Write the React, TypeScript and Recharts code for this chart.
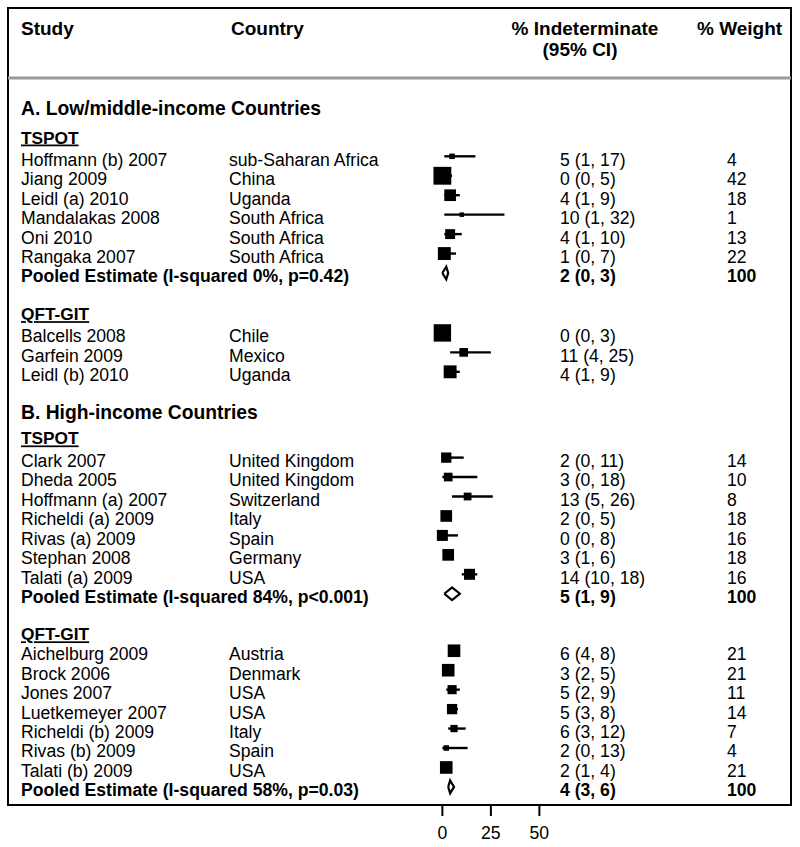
import React from "react";
import { ScatterChart, Scatter, XAxis, YAxis, ErrorBar, ReferenceLine, ReferenceArea } from "recharts";

// Studies, in the order they are listed
const studies = [
    "Hoffmann (b) 2007", "Jiang 2009", "Leidl (a) 2010", "Mandalakas 2008", "Oni 2010", "Rangaka 2007",
    "Balcells 2008", "Garfein 2009", "Leidl (b) 2010",
    "Clark 2007", "Dheda 2005", "Hoffmann (a) 2007", "Richeldi (a) 2009", "Rivas (a) 2009", "Stephan 2008", "Talati (a) 2009",
    "Aichelburg 2009", "Brock 2006", "Jones 2007", "Luetkemeyer 2007", "Richeldi (b) 2009", "Rivas (b) 2009", "Talati (b) 2009"
];
const countries = [
    "sub-Saharan Africa", "China", "Uganda", "South Africa", "South Africa", "South Africa",
    "Chile", "Mexico", "Uganda",
    "United Kingdom", "United Kingdom", "Switzerland", "Italy", "Spain", "Germany", "USA",
    "Austria", "Denmark", "USA", "USA", "Italy", "Spain", "USA"
];
const estimates = [5, 0, 4, 10, 4, 1, 0, 11, 4, 2, 3, 13, 2, 0, 3, 14, 6, 3, 5, 5, 6, 2, 2];
const lower = [1, 0, 1, 1, 1, 0, 0, 4, 1, 0, 0, 5, 0, 0, 1, 10, 4, 2, 2, 3, 3, 0, 1];
const upper = [17, 5, 9, 32, 10, 7, 3, 25, 9, 11, 18, 26, 5, 8, 6, 18, 8, 5, 9, 8, 12, 13, 4];
// % weight (the QFT-GIT group in section A shows no weights; values there only size the boxes)
const weights = [4, 42, 18, 1, 13, 22, 40, 10, 22, 14, 10, 8, 18, 16, 18, 16, 21, 21, 11, 14, 7, 4, 21];

const sections = ["A. Low/middle-income Countries", "B. High-income Countries"];
const sectionRows = [-2.61, 13.0];

const subgroupNames = ["TSPOT", "QFT-GIT", "TSPOT", "QFT-GIT"];
const subgroupHeaderRows = [-1.14, 7.94, 14.33, 24.4];
const subgroupFirstRows = [0, 9.08, 15.49, 25.42];
const subgroupSizes = [6, 3, 7, 7];

const pooledLabels = [
    "Pooled Estimate (I-squared 0%, p=0.42)",
    null,
    "Pooled Estimate (I-squared 84%, p<0.001)",
    "Pooled Estimate (I-squared 58%, p=0.03)"
];
const pooledEst = [2, null, 5, 4];
const pooledLo = [0, null, 1, 3];
const pooledHi = [3, null, 9, 6];

const xTicks = [0, 25, 50];

const X_DOMAIN: [number, number] = [-223.9, 179.7];
const Y_DOMAIN: [number, number] = [-7.625, 33.35];
const DIAMOND_HALF = 0.33;
const FONT = "'Liberation Sans', Arial, sans-serif";

// build rows
const studyPoints: any[] = [];
const textRows: any[] = [
    { x: 0, y: -6.72, kind: "colhead" },
    { x: 0, y: -5.64, kind: "colhead2" }
];
const diamonds: any[][] = [];

sections.forEach((s, i) => textRows.push({ x: 0, y: sectionRows[i], kind: "section", a: s }));

let k = 0;
subgroupNames.forEach((name, g) => {
    textRows.push({ x: 0, y: subgroupHeaderRows[g], kind: "subgroup", a: name });
    for (let i = 0; i < subgroupSizes[g]; i++, k++) {
        const y = subgroupFirstRows[g] + i;
        studyPoints.push({
            x: estimates[k],
            y,
            w: weights[k],
            err: [estimates[k] - lower[k], upper[k] - estimates[k]]
        });
        textRows.push({
            x: 0,
            y,
            kind: "study",
            a: studies[k],
            b: countries[k],
            c: `${estimates[k]} (${lower[k]}, ${upper[k]})`,
            d: pooledEst[g] == null ? "" : String(weights[k])
        });
    }
    if (pooledEst[g] != null) {
        const y = subgroupFirstRows[g] + subgroupSizes[g];
        const e = pooledEst[g] as number;
        const lo = pooledLo[g] as number;
        const hi = pooledHi[g] as number;
        diamonds.push([
            { x: lo, y },
            { x: e, y: y - DIAMOND_HALF },
            { x: hi, y },
            { x: e, y: y + DIAMOND_HALF },
            { x: lo, y }
        ]);
        textRows.push({ x: 0, y, kind: "pooled", a: pooledLabels[g], c: `${e} (${lo}, ${hi})`, d: "100" });
    }
});

const COL_STUDY = 21;
const COL_COUNTRY = 229;
const COL_CI = 560;
const COL_WEIGHT = 727;

function TextRow(props: any) {
    const { cy, payload } = props;
    const base = cy + 9.4;
    const common = { fontFamily: FONT, fill: "#000" };
    switch (payload.kind) {
        case "colhead":
            return (
                <g {...common} fontWeight="bold" fontSize={19}>
                    <text x={COL_STUDY} y={base} fontFamily={FONT}>Study</text>
                    <text x={231} y={base} fontFamily={FONT}>Country</text>
                    <text x={585} y={base} textAnchor="middle" fontFamily={FONT}>% Indeterminate</text>
                    <text x={697} y={base} fontFamily={FONT}>% Weight</text>
                </g>
            );
        case "colhead2":
            return (
                <text x={580} y={base} textAnchor="middle" fontFamily={FONT} fontWeight="bold" fontSize={19}>
                    (95% CI)
                </text>
            );
        case "section":
            return (
                <text x={COL_STUDY} y={base} fontFamily={FONT} fontWeight="bold" fontSize={19.3}>
                    {payload.a}
                </text>
            );
        case "subgroup":
            return (
                <text x={COL_STUDY} y={base} fontFamily={FONT} fontWeight="bold" fontSize={17.3}
                    style={{ textDecoration: "underline" }}>
                    {payload.a}
                </text>
            );
        case "pooled":
            return (
                <g fontWeight="bold" fontSize={17.6}>
                    <text x={COL_STUDY} y={base} fontFamily={FONT}>{payload.a}</text>
                    <text x={COL_CI} y={base} fontFamily={FONT}>{payload.c}</text>
                    <text x={COL_WEIGHT} y={base} fontFamily={FONT}>{payload.d}</text>
                </g>
            );
        default:
            return (
                <g fontSize={17.6}>
                    <text x={COL_STUDY} y={base} fontFamily={FONT}>{payload.a}</text>
                    <text x={COL_COUNTRY} y={base} fontFamily={FONT}>{payload.b}</text>
                    <text x={COL_CI} y={base} fontFamily={FONT}>{payload.c}</text>
                    <text x={COL_WEIGHT} y={base} fontFamily={FONT}>{payload.d}</text>
                </g>
            );
    }
}

function WeightBox(props: any) {
    const { cx, cy, payload } = props;
    const s = Math.max(4.5, 2.75 * Math.sqrt(payload.w));
    return <rect x={cx - s / 2} y={cy - s / 2} width={s} height={s} fill="#000" />;
}

function AxisTick(props: any) {
    const { x, y, payload } = props;
    return (
        <text x={x} y={y + 21} textAnchor="middle" fontFamily={FONT} fontSize={17.6} fill="#000">
            {payload.value}
        </text>
    );
}

export default function App() {
    return (
        <div style={{ position: "absolute", left: 0, top: 0, width: 800, height: 847, background: "#fff" }}>
            <ScatterChart width={800} height={847} margin={{ top: 8, right: 9, bottom: 0, left: 8 }}>
                <XAxis
                    type="number"
                    dataKey="x"
                    domain={X_DOMAIN}
                    allowDataOverflow
                    ticks={xTicks}
                    interval={0}
                    height={42}
                    tickSize={11}
                    axisLine={{ stroke: "#000", strokeWidth: 2 }}
                    tickLine={{ stroke: "#000", strokeWidth: 2 }}
                    tick={<AxisTick />}
                />
                <YAxis type="number" dataKey="y" domain={Y_DOMAIN} allowDataOverflow reversed hide />
                <ReferenceArea
                    x1={X_DOMAIN[0]}
                    x2={X_DOMAIN[1]}
                    y1={Y_DOMAIN[0]}
                    y2={Y_DOMAIN[1]}
                    fill="none"
                    stroke="#000"
                    strokeWidth={2}
                    fillOpacity={0}
                />
                <ReferenceLine y={-4.03} stroke="#9a9a9a" strokeWidth={3} />
                <Scatter data={textRows} shape={<TextRow />} isAnimationActive={false} legendType="none" />
                <Scatter data={studyPoints} shape={<WeightBox />} fill="#000" isAnimationActive={false} legendType="none">
                    <ErrorBar dataKey="err" direction="x" width={0} stroke="#000" strokeWidth={2.4} isAnimationActive={false} />
                </Scatter>
                {diamonds.map((pts, i) => (
                    <Scatter
                        key={`pooled-${i}`}
                        data={pts}
                        line={{ stroke: "#000", strokeWidth: 2.2, fill: "none" }}
                        lineJointType="linear"
                        shape={() => <g />}
                        fill="#000"
                        isAnimationActive={false}
                        legendType="none"
                    />
                ))}
            </ScatterChart>
        </div>
    );
}
